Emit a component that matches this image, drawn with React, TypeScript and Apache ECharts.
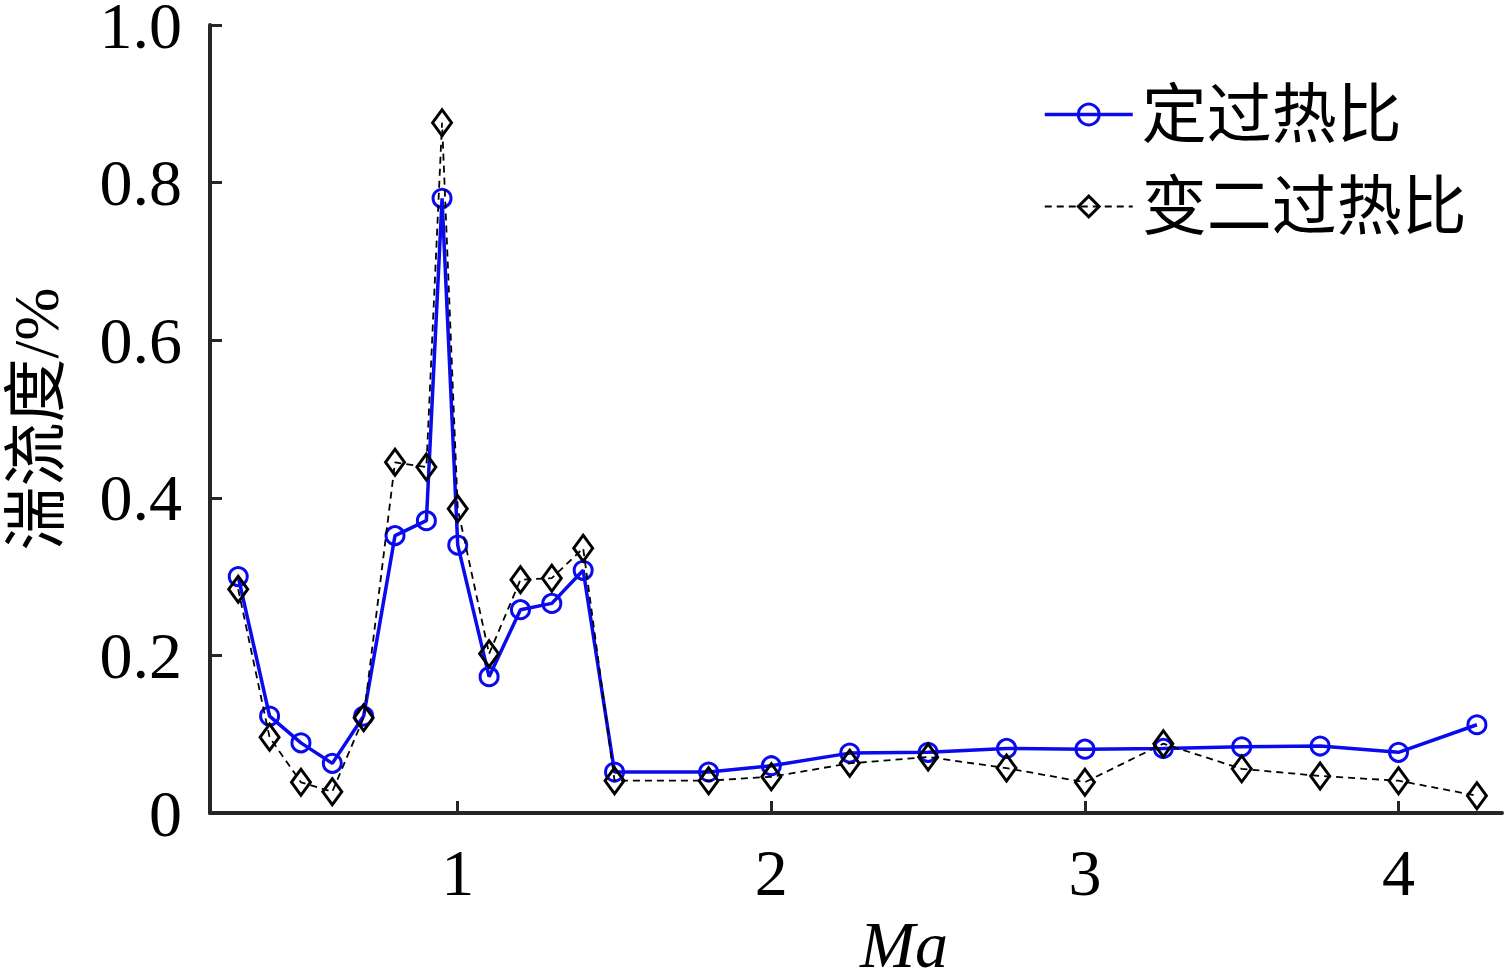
import React, { useEffect, useRef } from "react";
import * as echarts from "echarts";

const maValues = [0.3, 0.4, 0.5, 0.6, 0.7, 0.8, 0.9, 0.95, 1.0, 1.1, 1.2, 1.3, 1.4, 1.5, 1.8, 2.0, 2.25, 2.5, 2.75, 3.0, 3.25, 3.5, 3.75, 4.0, 4.25];
const fixedRatio = [0.300, 0.123, 0.089, 0.063, 0.123, 0.352, 0.371, 0.780, 0.340, 0.173, 0.258, 0.266, 0.308, 0.052, 0.052, 0.060, 0.076, 0.077, 0.082, 0.081, 0.082, 0.084, 0.085, 0.077, 0.112];
const variableRatio = [0.284, 0.096, 0.039, 0.027, 0.121, 0.445, 0.439, 0.876, 0.386, 0.202, 0.296, 0.298, 0.336, 0.041, 0.041, 0.046, 0.063, 0.071, 0.057, 0.039, 0.088, 0.056, 0.047, 0.041, 0.022];
const xTicks = [1, 2, 3, 4];
const seriesNames = ["定过热比", "变二过热比"];
const yAxisName = "湍流度/%";
const xAxisName = "Ma";

const FONT = "'Liberation Serif', 'Times New Roman', 'Noto Sans CJK SC', serif";
const AXIS_COLOR = "#262626";
const BLUE = "#0a0aee";

export default function App() {
  const ref = useRef<HTMLDivElement>(null);
  useEffect(() => {
    if (!ref.current) return;
    const chart = echarts.init(ref.current, undefined, { renderer: "svg" });
    const pair = (ys: number[]) => maValues.map((x, i) => [x, ys[i]]);
    chart.setOption({
      animation: false,
      backgroundColor: "#ffffff",
      grid: { left: 210, top: 25, right: 7, bottom: 158, containLabel: false, outerBoundsMode: "none" },
      legend: {
        orient: "vertical",
        left: 1038,
        top: 77,
        itemWidth: 88,
        itemHeight: 26,
        itemGap: 27,
        lineStyle: { width: "inherit" },
        itemStyle: { borderWidth: 3 },
        textStyle: { fontFamily: FONT, fontSize: 65, color: "#000", lineHeight: 65, padding: [0, 0, 0, 4] },
        data: seriesNames,
      },
      xAxis: {
        type: "value",
        min: 0.21,
        max: 4.33,
        splitLine: { show: false },
        axisLine: { lineStyle: { color: AXIS_COLOR, width: 4 } },
        axisTick: { inside: true, length: 12, lineStyle: { color: AXIS_COLOR, width: 3 }, customValues: xTicks },
        axisLabel: { customValues: xTicks, margin: 26, fontFamily: FONT, fontSize: 66, color: "#000" },
      },
      yAxis: {
        type: "value",
        min: 0,
        max: 1,
        interval: 0.2,
        name: yAxisName,
        nameLocation: "middle",
        nameRotate: 90,
        nameGap: 146,
        nameTextStyle: { fontFamily: FONT, fontSize: 64, color: "#000", lineHeight: 56 },
        splitLine: { show: false },
        axisLine: { lineStyle: { color: AXIS_COLOR, width: 4 } },
        axisTick: { inside: true, length: 12, lineStyle: { color: AXIS_COLOR, width: 3 } },
        axisLabel: {
          margin: 28,
          fontFamily: FONT,
          fontSize: 66,
          lineHeight: 46,
          color: "#000",
          formatter: (v: number) => (v === 0 ? "0" : v.toFixed(1)),
        },
      },
      graphic: [
        {
          type: "text",
          x: 904,
          y: 944,
          style: {
            text: xAxisName,
            fontFamily: FONT,
            fontSize: 66,
            lineHeight: 48,
            fontStyle: "italic",
            fill: "#000",
            align: "center",
            verticalAlign: "middle",
          },
        },
      ],
      series: [
        {
          name: seriesNames[0],
          type: "line",
          data: pair(fixedRatio),
          symbol: "circle",
          symbolSize: 18,
          showAllSymbol: true,
          z: 3,
          lineStyle: { color: BLUE, width: 3.5 },
          itemStyle: { color: "rgba(255,255,255,0)", borderColor: BLUE, borderWidth: 3 },
        },
        {
          name: seriesNames[1],
          type: "line",
          data: pair(variableRatio),
          symbol: "diamond",
          symbolSize: [19, 26],
          showAllSymbol: true,
          z: 4,
          lineStyle: { color: "#000000", width: 1.8, type: [7, 5] },
          itemStyle: { color: "rgba(255,255,255,0)", borderColor: "#000000", borderWidth: 3 },
        },
      ],
    });
    return () => chart.dispose();
  }, []);
  return (
    <div
      ref={ref}
      style={{ position: "fixed", left: 0, top: 0, width: 1509, height: 971, background: "#fff" }}
    />
  );
}
